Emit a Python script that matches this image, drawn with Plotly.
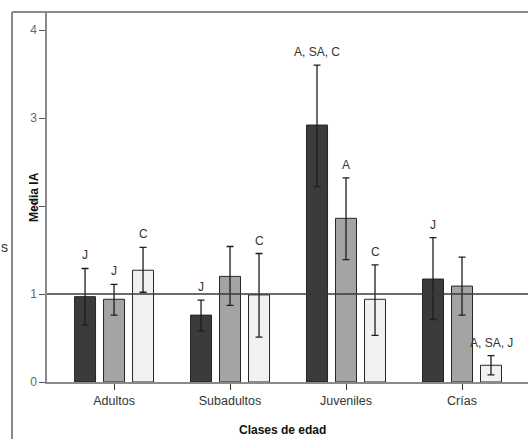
import plotly.graph_objects as go

categories = ["Adultos", "Subadultos", "Juveniles", "Crías"]
series_names = ["A", "B", "C"]
means = [
    [0.97, 0.76, 2.92, 1.17],
    [0.94, 1.20, 1.86, 1.09],
    [1.27, 0.99, 0.94, 0.19],
]
err_upper = [
    [1.29, 0.93, 3.60, 1.64],
    [1.11, 1.54, 2.32, 1.42],
    [1.53, 1.46, 1.33, 0.30],
]
err_lower = [
    [0.65, 0.58, 2.22, 0.71],
    [0.76, 0.87, 1.39, 0.76],
    [1.02, 0.51, 0.53, 0.08],
]
sig_labels = [
    ["J", "J", "A, SA, C", "J"],
    ["J", "", "A", ""],
    ["C", "C", "C", "A, SA, J"],
]
y_ticks = [0, 1, 2, 3, 4]
ref_value = 1

colors = ["#3b3b3b", "#a4a4a4", "#f1f1f1"]

fig = go.Figure()
xs = list(range(len(categories)))
for i in range(3):
    fig.add_trace(go.Bar(
        x=xs, y=means[i], name=series_names[i],
        marker=dict(color=colors[i], line=dict(color="#262626", width=1)),
        error_y=dict(
            type="data", symmetric=False,
            array=[u - m for u, m in zip(err_upper[i], means[i])],
            arrayminus=[m - l for l, m in zip(err_lower[i], means[i])],
            color="#1e1e1e", thickness=1.3, width=3.5,
        ),
        showlegend=False,
    ))

# significance labels above error bars
offsets = [-0.25, 0.0, 0.25]
for i in range(3):
    for j in xs:
        if sig_labels[i][j]:
            fig.add_annotation(
                x=j + offsets[i], y=err_upper[i][j], text=sig_labels[i][j],
                showarrow=False, yanchor="middle", yshift=13,
                font=dict(family="Liberation Sans, Arial", size=12, color="#333333"),
            )

fig.add_shape(type="line", xref="paper", yref="y", x0=0, x1=1, y0=ref_value, y1=ref_value,
              line=dict(color="#3a3a3a", width=1.3))

# outer frame (cropped)
fig.add_shape(type="line", xref="paper", yref="paper", x0=-35/481, x1=-35/481, y0=-57/370, y1=1,
              line=dict(color="#8a8a8a", width=2))
fig.add_shape(type="line", xref="paper", yref="paper", x0=-35/481, x1=1, y0=1, y1=1,
              line=dict(color="#8a8a8a", width=2))

fig.add_annotation(xref="paper", yref="paper", x=-22/481, y=0.5, text="<b>Media IA</b>",
                   textangle=-90, showarrow=False,
                   font=dict(family="Liberation Sans, Arial", size=12, color="#111111"))
fig.add_annotation(xref="paper", yref="paper", x=(282 - 47) / 481, y=-48/370, text="<b>Clases de edad</b>",
                   showarrow=False, yanchor="middle",
                   font=dict(family="Liberation Sans, Arial", size=12, color="#111111"))
fig.add_annotation(xref="paper", yref="paper", x=-43/481, y=(382 - 247) / 370, text="s",
                   showarrow=False, xanchor="center", yanchor="middle",
                   font=dict(family="Liberation Sans, Arial", size=14, color="#333333"))

fig.update_layout(
    width=528, height=439,
    margin=dict(l=47, r=0, t=12, b=57),
    paper_bgcolor="white", plot_bgcolor="white",
    barmode="group", bargap=0.25, bargroupgap=0.276,
    xaxis=dict(
        tickmode="array", tickvals=xs, ticktext=categories,
        range=[-0.578, 3.569], showgrid=False, zeroline=False,
        showline=True, linecolor="#8a8a8a", linewidth=1.5,
        ticks="outside", ticklen=6, tickcolor="#333333",
        tickfont=dict(family="Liberation Sans, Arial", size=12.5, color="#333333"),
    ),
    yaxis=dict(
        range=[0, 370/88], tickvals=y_ticks, showgrid=False, zeroline=False,
        showline=True, linecolor="#8a8a8a", linewidth=1.5,
        ticks="outside", ticklen=6, tickcolor="#555555",
        tickfont=dict(family="Liberation Sans, Arial", size=12, color="#666666"),
    ),
)

fig.write_html("out.html", config={"displayModeBar": False},
               post_script="document.body.style.margin='0';document.body.style.overflow='hidden';")
